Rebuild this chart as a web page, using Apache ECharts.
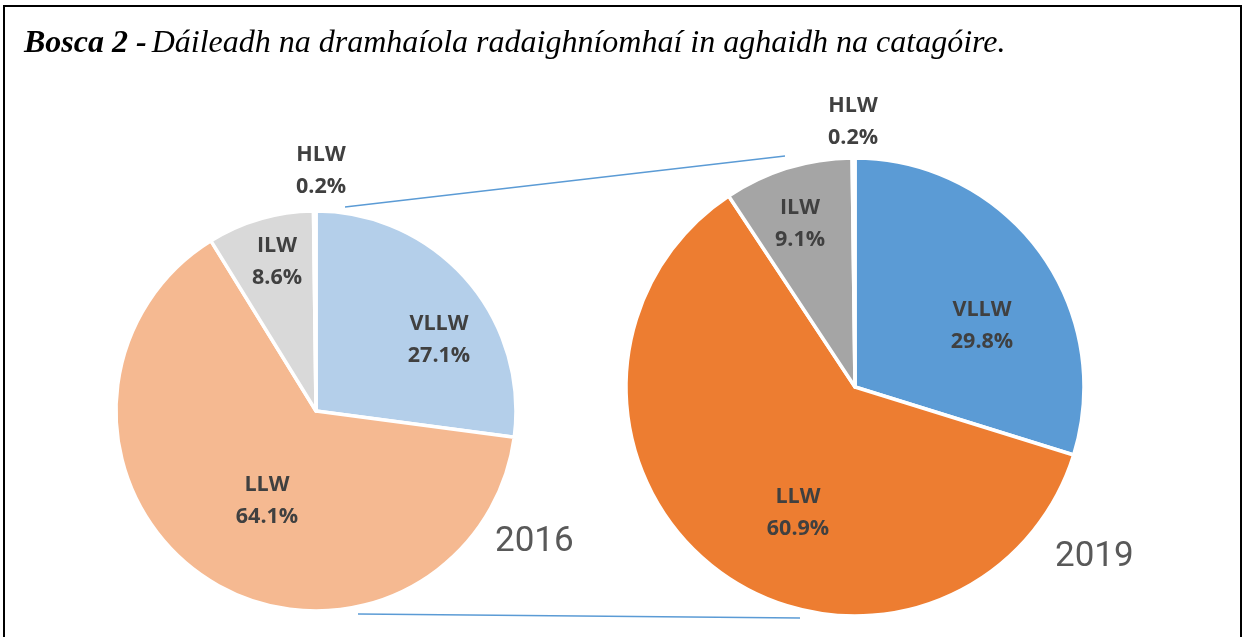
<!DOCTYPE html>
<html>
<head>
<meta charset="utf-8">
<script src="https://cdn.jsdelivr.net/npm/echarts@6/dist/echarts.min.js"></script>
<style>
html,body{margin:0;padding:0;background:#fff;}
#chart{width:1247px;height:637px;}
</style>
</head>
<body>
<div id="chart"></div>
<script>
// ---- data ----
var categories = ['VLLW', 'LLW', 'ILW', 'HLW'];
var values2016 = [27.1, 64.1, 8.6, 0.2];
var values2019 = [29.8, 60.9, 9.1, 0.2];
var years = ['2016', '2019'];
var titleBold = 'Bosca 2 -';
var titleText = 'Dáileadh na dramhaíola radaighníomhaí in aghaidh na catagóire.';

// ---- styles / layout ----
var colors2016 = ['#B4CFEA', '#F5B991', '#D9D9D9', '#D9D9D9'];
var colors2019 = ['#5B9BD5', '#ED7D31', '#A5A5A5', '#A5A5A5'];
var pieL = {cx: 316, cy: 411, r: 200};
var pieR = {cx: 855, cy: 387, r: 229};
// label anchor positions (layout only)
var labelPos = [
  [[439, 340], [267, 501], [277, 262], [321, 171]],
  [[982, 326], [798, 513], [800, 224], [853, 122]]
];

function buildData(vals, cols) {
  return categories.map(function (c, i) {
    return {name: c, value: vals[i], itemStyle: {color: cols[i]}};
  });
}

function seriesFor(idx, pie, vals, cols) {
  return {
    type: 'pie',
    center: [pie.cx, pie.cy],
    radius: [0, pie.r],
    startAngle: 90,
    clockwise: true,
    avoidLabelOverlap: false,
    animation: false,
    minShowLabelAngle: 0,
    itemStyle: {borderColor: '#fff', borderWidth: 3.5},
    label: {
      show: true,
      position: 'inside',
      formatter: function (p) { return p.name + '\n' + p.value.toFixed(1) + '%'; },
      fontFamily: '"Open Sans", sans-serif',
      fontWeight: 'bold',
      fontSize: 21.5,
      lineHeight: 32,
      color: '#404040'
    },
    labelLine: {show: false},
    labelLayout: function (params) {
      var p = labelPos[idx][params.dataIndex];
      return {x: p[0], y: p[1], align: 'center', verticalAlign: 'middle'};
    },
    emphasis: {disabled: true},
    data: buildData(vals, cols)
  };
}

var chart = echarts.init(document.getElementById('chart'), null, {renderer: 'canvas'});
chart.setOption({
  backgroundColor: '#fff',
  title: [
    {
      left: 19, top: 23,
      text: '{b|' + titleBold + '} {i|' + titleText + '}',
      textStyle: {
        rich: {
          b: {fontFamily: '"Liberation Serif", "Times New Roman", serif', fontStyle: 'italic', fontWeight: 'bold', fontSize: 32, color: '#000'},
          i: {fontFamily: '"Liberation Serif", "Times New Roman", serif', fontStyle: 'italic', fontWeight: 'normal', fontSize: 32, color: '#000'}
        }
      }
    },
    {
      left: 490, top: 520, text: years[0],
      textStyle: {fontFamily: 'Roboto, sans-serif', fontWeight: 'normal', fontSize: 35, color: '#595959'}
    },
    {
      left: 1050, top: 535, text: years[1],
      textStyle: {fontFamily: 'Roboto, sans-serif', fontWeight: 'normal', fontSize: 35, color: '#595959'}
    }
  ],
  graphic: [
    {type: 'rect', shape: {x: 4, y: 6, width: 1237, height: 700}, style: {fill: 'none', stroke: '#000', lineWidth: 2}, silent: true},
    {type: 'line', shape: {x1: pieL.cx + 29, y1: pieL.cy - pieL.r - 4, x2: pieR.cx - 70, y2: pieR.cy - pieR.r - 2}, style: {stroke: '#5B9BD5', lineWidth: 1.5}, silent: true},
    {type: 'line', shape: {x1: pieL.cx + 42, y1: pieL.cy + pieL.r + 3, x2: pieR.cx - 55, y2: pieR.cy + pieR.r + 2}, style: {stroke: '#5B9BD5', lineWidth: 1.5}, silent: true}
  ],
  series: [
    seriesFor(0, pieL, values2016, colors2016),
    seriesFor(1, pieR, values2019, colors2019)
  ]
});
</script>
</body>
</html>
